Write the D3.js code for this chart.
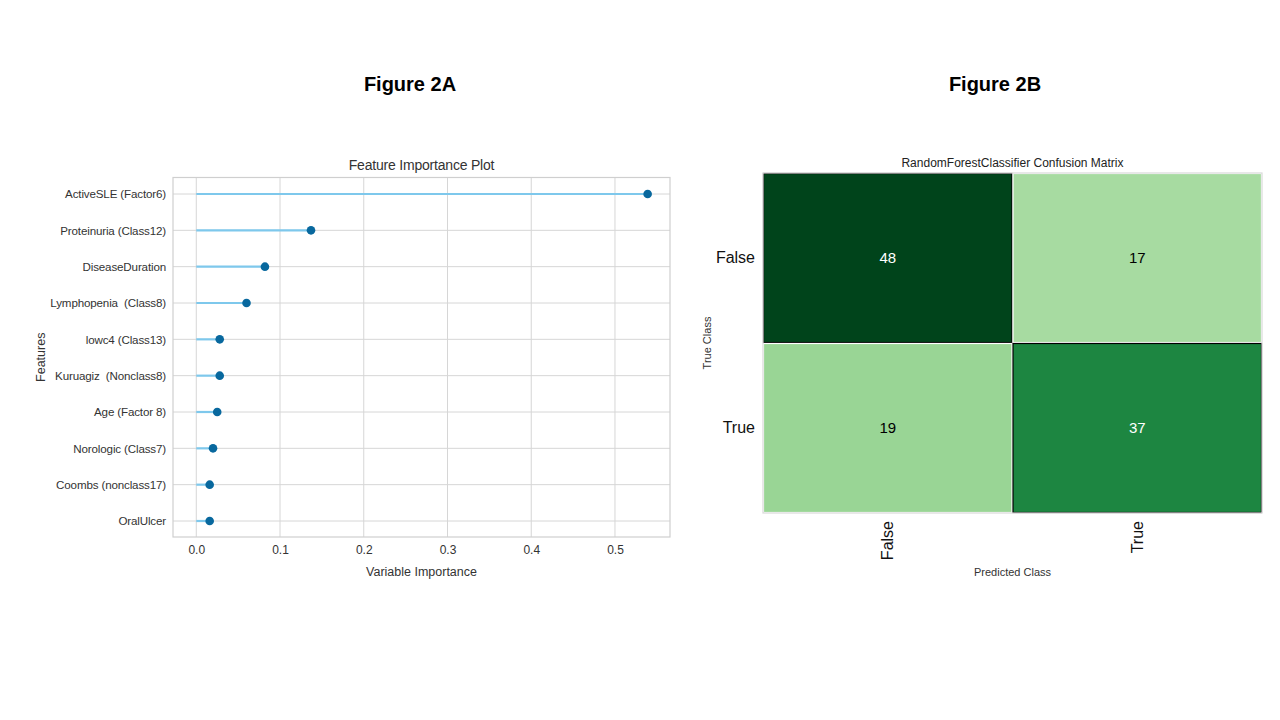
<!DOCTYPE html>
<html>
<head>
<meta charset="utf-8">
<script src="https://cdn.jsdelivr.net/npm/d3@7"></script>
<style>
  html, body { margin: 0; padding: 0; background: #ffffff; }
  svg { display: block; font-family: "Liberation Sans", Arial, sans-serif; }
  text { white-space: pre; }
</style>
</head>
<body>
<svg id="chart" width="1280" height="720"></svg>
<script>
// ---------- DATA ----------
const features = [
  "ActiveSLE (Factor6)",
  "Proteinuria (Class12)",
  "DiseaseDuration",
  "Lymphopenia  (Class8)",
  "lowc4 (Class13)",
  "Kuruagiz  (Nonclass8)",
  "Age (Factor 8)",
  "Norologic (Class7)",
  "Coombs (nonclass17)",
  "OralUlcer"
];
const importance = [0.539, 0.137, 0.082, 0.060, 0.028, 0.028, 0.025, 0.020, 0.016, 0.016];
const importanceTicks = [0.0, 0.1, 0.2, 0.3, 0.4, 0.5];

const cmClasses = ["False", "True"];
const cmValues = [
  [48, 17],
  [19, 37]
];

// ---------- SVG ----------
const svg = d3.select("#chart");
svg.append("rect").attr("width", 1280).attr("height", 720).attr("fill", "#ffffff");

// Figure headings
svg.append("text").attr("x", 410).attr("y", 91).attr("text-anchor", "middle")
  .attr("font-size", 20).attr("font-weight", "bold").attr("fill", "#000")
  .text("Figure 2A");
svg.append("text").attr("x", 995).attr("y", 91).attr("text-anchor", "middle")
  .attr("font-size", 20).attr("font-weight", "bold").attr("fill", "#000")
  .text("Figure 2B");

// ---------- FIGURE 2A: Feature importance lollipop ----------
const A = { left: 173, right: 670, top: 177.5, bottom: 537 };
const x = d3.scaleLinear().domain([-0.0278, 0.5657]).range([A.left, A.right]);
const y = d3.scalePoint().domain(features).range([194, 521]);

const gA = svg.append("g");
gA.append("rect").attr("x", A.left).attr("y", A.top)
  .attr("width", A.right - A.left).attr("height", A.bottom - A.top)
  .attr("fill", "#ffffff");

// vertical grid
gA.selectAll("line.vgrid").data(importanceTicks).join("line")
  .attr("class", "vgrid")
  .attr("x1", d => x(d)).attr("x2", d => x(d))
  .attr("y1", A.top).attr("y2", A.bottom)
  .attr("stroke", "#d6d6d6").attr("stroke-width", 1);
// horizontal grid
gA.selectAll("line.hgrid").data(features).join("line")
  .attr("class", "hgrid")
  .attr("x1", A.left).attr("x2", A.right)
  .attr("y1", d => y(d)).attr("y2", d => y(d))
  .attr("stroke", "#d6d6d6").attr("stroke-width", 1);

// frame
gA.append("rect").attr("x", A.left).attr("y", A.top)
  .attr("width", A.right - A.left).attr("height", A.bottom - A.top)
  .attr("fill", "none").attr("stroke", "#cfcfcf").attr("stroke-width", 1.2);

// stems
gA.selectAll("line.stem").data(features).join("line")
  .attr("class", "stem")
  .attr("x1", x(0)).attr("x2", (d, i) => x(importance[i]))
  .attr("y1", d => y(d)).attr("y2", d => y(d))
  .attr("stroke", "#7ec8ec").attr("stroke-width", 2.2);
// dots
gA.selectAll("circle.dot").data(features).join("circle")
  .attr("class", "dot")
  .attr("cx", (d, i) => x(importance[i])).attr("cy", d => y(d))
  .attr("r", 4.3).attr("fill", "#08689e");

// axes
const xAxisA = d3.axisBottom(x).tickValues(importanceTicks).tickFormat(d3.format(".1f")).tickSize(0).tickPadding(8);
const gxA = gA.append("g").attr("transform", `translate(0,${A.bottom})`).call(xAxisA);
gxA.select(".domain").remove();
gxA.selectAll("text").attr("font-size", 12).attr("fill", "#333")
  .attr("font-family", "'Liberation Sans', Arial, sans-serif");

const yAxisA = d3.axisLeft(y).tickSize(0).tickPadding(7);
const gyA = gA.append("g").attr("transform", `translate(${A.left},0)`).call(yAxisA);
gyA.select(".domain").remove();
gyA.selectAll("text").attr("font-size", 11.6).attr("fill", "#333")
  .attr("letter-spacing", "-0.15")
  .attr("font-family", "'Liberation Sans', Arial, sans-serif");

gA.append("text").attr("x", (A.left + A.right) / 2).attr("y", 170)
  .attr("text-anchor", "middle").attr("font-size", 14).attr("fill", "#333")
  .attr("letter-spacing", "-0.2")
  .text("Feature Importance Plot");
gA.append("text").attr("x", (A.left + A.right) / 2).attr("y", 576)
  .attr("text-anchor", "middle").attr("font-size", 12.5).attr("fill", "#333")
  .text("Variable Importance");
gA.append("text").attr("transform", `translate(45,${(A.top + A.bottom) / 2}) rotate(-90)`)
  .attr("text-anchor", "middle").attr("font-size", 12.5).attr("fill", "#333")
  .text("Features");

// ---------- FIGURE 2B: Confusion matrix ----------
const B = { left: 763, right: 1262, top: 173, bottom: 513 };
const bx = d3.scaleBand().domain(cmClasses).range([B.left, B.right]);
const by = d3.scaleBand().domain(cmClasses).range([B.top, B.bottom]);
const vmax = d3.max(cmValues.flat());
const color = d3.scaleSequential(d3.interpolateGreens).domain([0, vmax]);

const cells = [];
cmClasses.forEach((t, i) => cmClasses.forEach((p, j) => cells.push({ t, p, v: cmValues[i][j] })));

const gB = svg.append("g");
gB.selectAll("rect.cell").data(cells).join("rect")
  .attr("class", "cell")
  .attr("x", d => bx(d.p) + 0.5).attr("y", d => by(d.t) + 0.5)
  .attr("width", bx.bandwidth() - 1).attr("height", by.bandwidth() - 1)
  .attr("fill", d => color(d.v))
  .attr("stroke", d => d.v / vmax > 0.5 ? "#000000" : "#ffffff")
  .attr("stroke-width", 1.2);

gB.append("rect").attr("x", B.left).attr("y", B.top)
  .attr("width", B.right - B.left).attr("height", B.bottom - B.top)
  .attr("fill", "none").attr("stroke", "#d9d9d9").attr("stroke-width", 1.2);

gB.selectAll("text.val").data(cells).join("text")
  .attr("class", "val")
  .attr("x", d => bx(d.p) + bx.bandwidth() / 2)
  .attr("y", d => by(d.t) + by.bandwidth() / 2)
  .attr("dy", "0.1em")
  .attr("text-anchor", "middle").attr("dominant-baseline", "middle")
  .attr("font-size", 15)
  .attr("fill", d => d.v / vmax > 0.6 ? "#ffffff" : "#000000")
  .text(d => d.v);

// y labels
const yAxisB = d3.axisLeft(by).tickSize(0).tickPadding(8);
const gyB = gB.append("g").attr("transform", `translate(${B.left},0)`).call(yAxisB);
gyB.select(".domain").remove();
gyB.selectAll("text").attr("font-size", 16).attr("fill", "#111")
  .attr("font-family", "'Liberation Sans', Arial, sans-serif");

// x labels rotated
const xAxisB = d3.axisBottom(bx).tickSize(0).tickPadding(0);
const gxB = gB.append("g").attr("transform", `translate(0,${B.bottom})`).call(xAxisB);
gxB.select(".domain").remove();
gxB.selectAll("text")
  .attr("font-size", 16).attr("fill", "#111")
  .attr("font-family", "'Liberation Sans', Arial, sans-serif")
  .attr("transform", "rotate(-90)")
  .attr("text-anchor", "end")
  .attr("x", -8).attr("y", 0).attr("dy", "0.35em");

gB.append("text").attr("x", (B.left + B.right) / 2).attr("y", 167)
  .attr("text-anchor", "middle").attr("font-size", 12).attr("fill", "#222")
  .text("RandomForestClassifier Confusion Matrix");
gB.append("text").attr("x", (B.left + B.right) / 2).attr("y", 576)
  .attr("text-anchor", "middle").attr("font-size", 11).attr("fill", "#333")
  .text("Predicted Class");
gB.append("text").attr("transform", `translate(711,${(B.top + B.bottom) / 2}) rotate(-90)`)
  .attr("text-anchor", "middle").attr("font-size", 11).attr("fill", "#333")
  .text("True Class");
</script>
</body>
</html>
